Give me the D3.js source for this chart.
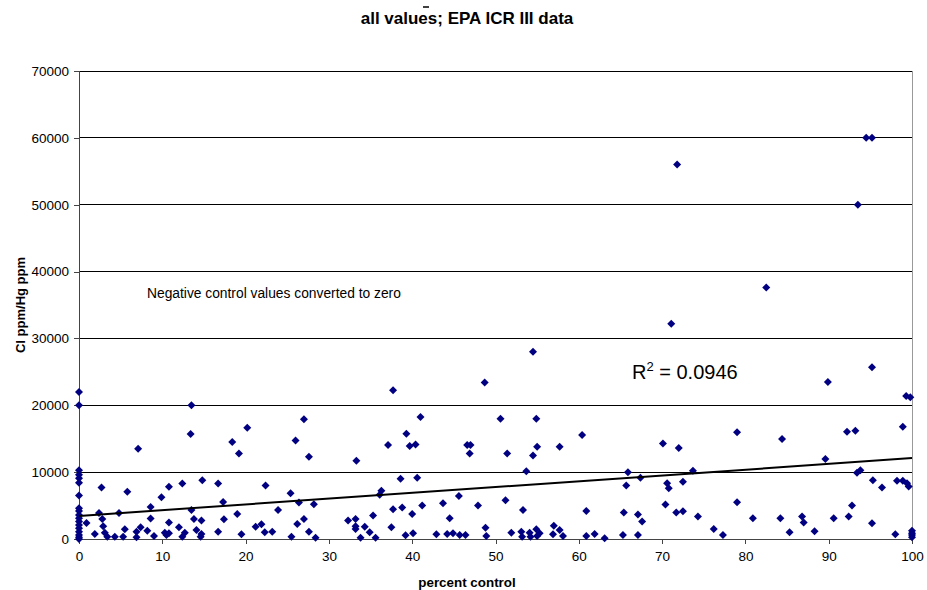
<!DOCTYPE html>
<html>
<head>
<meta charset="utf-8">
<script src="https://cdn.jsdelivr.net/npm/d3@7"></script>
<style>
  body { margin: 0; background: #fff; }
  svg { font-family: "Liberation Sans", Arial, sans-serif; }
</style>
</head>
<body>
<svg id="chart"></svg>
<script>
// percent control (x) and Cl ppm / Hg ppm (y)
const pctControl = [
  0, 0, 0, 0, 0, 0, 0, 0, 0, 0, 0, 0, 0, 0, 0, 0, 0, 0,
  0.9, 1.9, 2.7, 2.4, 2.8, 2.9, 3.1, 3.4, 4.3, 4.8, 5.3, 5.5, 5.8, 6.9, 6.9, 7.1, 7.4, 8.2, 8.6, 8.6, 9.0, 9.9,
  10.8, 10.3, 10.5, 10.8, 10.8, 12.0, 12.4, 12.7, 12.4, 13.5, 13.4, 13.5, 13.8, 14.1, 14.7, 14.7, 14.8, 14.6,
  16.7, 17.3, 17.4, 16.7, 18.4, 19.2, 20.2, 19.0, 19.5, 21.2, 21.9, 22.3, 23.2, 22.4, 23.9,
  25.4, 26.0, 27.0, 27.6, 26.4, 28.2, 27.0, 26.2, 25.5, 27.6, 28.4,
  32.3, 33.2, 33.2, 33.2, 33.3, 34.3, 34.9, 35.6, 33.8, 35.3,
  36.1, 36.3, 37.1, 37.7, 37.7, 38.8, 38.6, 39.3, 39.7, 40.4, 41.0, 40.6, 41.2, 40.0, 37.5, 39.2, 40.1,
  42.9, 43.7, 44.5, 44.2, 44.9, 45.6, 45.7, 46.4, 46.6, 47.0, 46.9, 47.9, 48.7, 48.8, 48.9,
  50.6, 51.4, 51.2, 51.9, 53.1, 53.2, 53.3, 53.7, 54.1, 54.2, 54.5, 54.5, 54.9, 55.0, 54.9, 55.0, 55.3, 56.9, 57.0, 57.7, 57.7, 58.1,
  60.4, 60.9, 60.9, 61.9, 63.1, 65.3, 65.4, 65.7, 65.9, 67.1, 67.1, 67.4, 67.6,
  70.1, 70.4, 70.6, 70.8, 71.1, 71.8, 71.7, 72.0, 72.5, 72.5, 73.7, 74.3, 76.2, 77.3,
  79.0, 79.0, 80.9, 82.5, 84.2, 84.4, 85.3, 86.8, 87.0, 88.3, 89.6, 89.9, 90.6, 92.2, 92.4, 92.8, 93.2, 93.4, 93.8,
  93.5, 94.5, 95.2, 95.2, 95.3, 95.2, 96.4, 98.0, 98.2, 98.9, 98.9, 99.3, 99.8, 99.4, 99.6, 100, 100, 100, 100
];
const clHgRatio = [
  22000, 20000, 10300, 9600, 9100, 8400, 6500, 4600, 4200, 3600, 3100, 2600, 2100, 1600, 1100, 600, 250, 0,
  2400, 750, 7700, 3900, 3000, 1900, 950, 350, 350, 3900, 350, 1450, 7050, 250, 1100, 13500, 1750, 1250, 3050, 4800, 450, 6250,
  7800, 950, 600, 2450, 850, 1750, 8300, 950, 350, 4350, 15700, 20000, 3000, 1350, 2750, 750, 8800, 350,
  8300, 5550, 2950, 1100, 14500, 12800, 16650, 3750, 700, 1850, 2200, 1000, 1100, 8000, 4350,
  6850, 14750, 17900, 12300, 5450, 5200, 3000, 2250, 350, 1100, 200,
  2750, 3000, 1900, 1500, 11700, 1850, 1000, 200, 200, 3500,
  6600, 7200, 14050, 22250, 4450, 4700, 9000, 15750, 13900, 14150, 18250, 9150, 5000, 3750, 1750, 550, 850,
  700, 5350, 3100, 750, 850, 6450, 600, 600, 14050, 14050, 12800, 5000, 23400, 1700, 450,
  18000, 12800, 5800, 950, 1100, 350, 4350, 10150, 950, 350, 12500, 28000, 18000, 13800, 1450, 450, 850, 700, 2000, 1350, 13800, 450,
  15550, 4200, 450, 750, 100, 600, 3950, 8000, 10000, 3650, 600, 9150, 2600,
  14300, 5150, 8350, 7600, 32200, 56000, 3950, 13600, 8550, 4150, 10200, 3350, 1500, 600,
  15950, 5500, 3100, 37600, 3100, 14950, 1000, 3350, 2450, 1150, 11950, 23500, 3100, 16050, 3350, 5000, 16200, 9900, 10300,
  50000, 60000, 60000, 25700, 8800, 2350, 7700, 700, 8700, 8700, 16800, 21400, 21200, 8350, 7850, 1250, 850, 600, 250
];
const xTicks = [0, 10, 20, 30, 40, 50, 60, 70, 80, 90, 100];
const yTicks = [0, 10000, 20000, 30000, 40000, 50000, 60000, 70000];
// linear trend line from the chart: value at x=0 and at x=100
const trendX = [0, 100];
const trendY = [3450, 12100];
const rSquared = "0.0946";

const width = 927, height = 590;
const margin = {top: 71, right: 15, bottom: 51, left: 79};

const svg = d3.select("#chart")
    .attr("width", width)
    .attr("height", height);

const x = d3.scaleLinear()
    .domain([0, 100])
    .range([margin.left, width - margin.right]);

const y = d3.scaleLinear()
    .domain([0, 70000])
    .range([height - margin.bottom, margin.top]);

// gridlines
svg.append("g")
    .selectAll("line")
    .data(yTicks.filter(d => d > 0))
    .join("line")
    .attr("x1", x(0))
    .attr("x2", x(100))
    .attr("y1", d => y(d))
    .attr("y2", d => y(d))
    .attr("stroke", "#000")
    .attr("stroke-width", 1)
    .attr("shape-rendering", "crispEdges");

// right border of plot area
svg.append("line")
    .attr("x1", x(100)).attr("x2", x(100))
    .attr("y1", y(70000)).attr("y2", y(0))
    .attr("stroke", "#999")
    .attr("shape-rendering", "crispEdges");

const yAxis = svg.append("g")
    .attr("transform", `translate(${margin.left},0)`)
    .call(d3.axisLeft(y).tickValues(yTicks).tickFormat(d3.format("d")).tickSize(5).tickPadding(5));

const xAxis = svg.append("g")
    .attr("transform", `translate(0,${height - margin.bottom})`)
    .call(d3.axisBottom(x).tickValues(xTicks).tickSize(5).tickPadding(7));

[yAxis, xAxis].forEach(g => {
    g.selectAll("path, line").attr("stroke", "#444").attr("shape-rendering", "crispEdges");
    g.selectAll("text").attr("font-size", 13.5).attr("fill", "#000")
        .attr("font-family", "Liberation Sans, Arial, sans-serif");
});

// points
const diamond = "M0,-4L4,0L0,4L-4,0Z";
svg.append("g")
    .selectAll("path")
    .data(pctControl.map((d, i) => [d, clHgRatio[i]]))
    .join("path")
    .attr("d", diamond)
    .attr("transform", d => `translate(${x(d[0])},${y(d[1])})`)
    .attr("fill", "#000080");

// trend line
svg.append("line")
    .attr("x1", x(trendX[0])).attr("y1", y(trendY[0]))
    .attr("x2", x(trendX[1])).attr("y2", y(trendY[1]))
    .attr("stroke", "#000")
    .attr("stroke-width", 2);

// texts
svg.append("text")
    .attr("x", 467).attr("y", 24)
    .attr("text-anchor", "middle")
    .attr("font-size", 17).attr("font-weight", "bold")
    .text("all values; EPA ICR III data");

// small stray mark above the semicolon in the title
svg.append("line")
    .attr("x1", 423).attr("x2", 429)
    .attr("y1", 7).attr("y2", 7)
    .attr("stroke", "#000")
    .attr("stroke-width", 1.5);

svg.append("text")
    .attr("transform", "translate(25,305) rotate(-90)")
    .attr("text-anchor", "middle")
    .attr("font-size", 13).attr("font-weight", "bold")
    .text("Cl ppm/Hg ppm");

svg.append("text")
    .attr("x", 467).attr("y", 587)
    .attr("text-anchor", "middle")
    .attr("font-size", 13.4).attr("font-weight", "bold")
    .text("percent control");

svg.append("text")
    .attr("x", 147).attr("y", 298)
    .attr("font-size", 13.8)
    .text("Negative control values converted to zero");

const r2 = svg.append("text")
    .attr("x", 632).attr("y", 379)
    .attr("font-size", 20);
r2.append("tspan").text("R");
r2.append("tspan").attr("dy", -8).attr("font-size", 13).text("2");
r2.append("tspan").attr("dy", 8).text(" = " + rSquared);
</script>
</body>
</html>
